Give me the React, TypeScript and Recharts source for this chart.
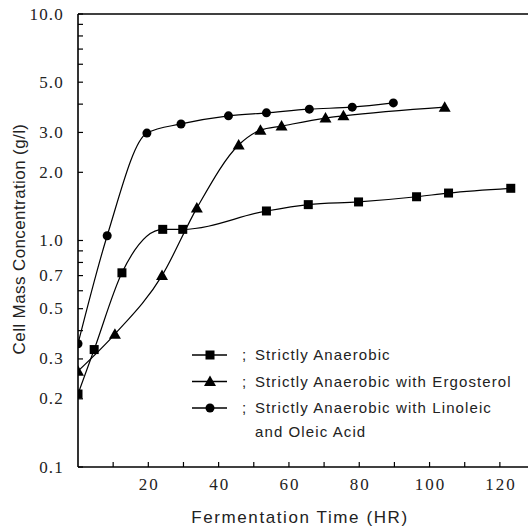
import React from 'react';
import {
  LineChart,
  Line,
  XAxis,
  YAxis,
  Legend,
  ReferenceLine,
} from 'recharts';

// Fermentation time (HR) and cell mass (g/l)
const anaerobicTime = [0, 4.6, 12.5, 24.1, 29.8, 53.6, 65.5, 79.8, 96.3, 105.4, 123.1];
const anaerobicMass = [0.21, 0.33, 0.72, 1.12, 1.12, 1.35, 1.44, 1.48, 1.56, 1.62, 1.7];

const ergosterolTime = [0, 10.5, 23.9, 33.8, 45.7, 51.9, 57.9, 70.4, 75.5, 104.3];
const ergosterolMass = [0.265, 0.386, 0.7, 1.39, 2.64, 3.07, 3.2, 3.47, 3.55, 3.88];

const linoleicTime = [0, 8.3, 19.6, 29.3, 42.8, 53.6, 65.8, 78, 89.7];
const linoleicMass = [0.35, 1.05, 2.98, 3.27, 3.55, 3.66, 3.8, 3.88, 4.05];

const seriesNames = [
  'Strictly Anaerobic',
  'Strictly Anaerobic with Ergosterol',
  'Strictly Anaerobic with Linoleic and Oleic Acid',
];
const legendLines = [
  ['Strictly Anaerobic'],
  ['Strictly Anaerobic with Ergosterol'],
  ['Strictly Anaerobic with Linoleic', 'and Oleic Acid'],
];
const markerShapes = ['square', 'triangle', 'circle'];

const xTicks = [10, 20, 30, 40, 50, 60, 70, 80, 90, 100, 110, 120];
const xTickLabels = [20, 40, 60, 80, 100, 120];
const yTicks = [0.1, 0.2, 0.3, 0.4, 0.5, 0.6, 0.7, 0.8, 0.9, 1, 2, 3, 4, 5, 6, 7, 8, 9, 10];
const yTickLabels = [0.1, 0.2, 0.3, 0.5, 0.7, 1, 2, 3, 5, 10];

const toPoints = (xs: number[], ys: number[]) => xs.map((t, i) => ({ time: t, mass: ys[i] }));

const anaerobicData = toPoints(anaerobicTime, anaerobicMass);
const ergosterolData = toPoints(ergosterolTime, ergosterolMass);
const linoleicData = toPoints(linoleicTime, linoleicMass);

const SERIF =
  '"Liberation Serif", "Times New Roman", Times, Tinos, "Noto Serif", "DejaVu Serif", FreeSerif, serif';
const SANS = '"Liberation Sans", Arial, sans-serif';

function Marker({ shape, cx, cy }: { shape: string; cx: number; cy: number }) {
  if (shape === 'square') {
    return <rect x={cx - 4.5} y={cy - 4.5} width={9} height={9} fill="#000" />;
  }
  if (shape === 'triangle') {
    return <path d={`M${cx},${cy - 6} L${cx + 6},${cy + 4.5} L${cx - 6},${cy + 4.5} Z`} fill="#000" />;
  }
  return <circle cx={cx} cy={cy} r={4.5} fill="#000" />;
}

const makeDot = (shape: string) => (props: any) => {
  const { cx, cy, index } = props;
  if (cx == null || cy == null) return <g key={`d-${shape}-${index}`} />;
  return (
    <g key={`d-${shape}-${index}`}>
      <Marker shape={shape} cx={cx} cy={cy} />
    </g>
  );
};

const YTick = ({ x, y, payload }: any) => {
  const v = payload.value;
  const show = yTickLabels.some((l) => Math.abs(l - v) < 1e-9);
  return (
    <g>
      <line x1={x} x2={x + 5} y1={y} y2={y} stroke="#000" strokeWidth={1.2} />
      {show && (
        <text
          x={x - 14}
          y={y}
          dy={5.5}
          textAnchor="end"
          fontFamily={SERIF}
          style={{ fontFamily: SERIF, fontSize: 17, letterSpacing: 1.2 }}
          fill="#222"
        >
          {v.toFixed(1)}
        </text>
      )}
    </g>
  );
};

const XTick = ({ x, y, payload }: any) => {
  const v = payload.value;
  return (
    <g>
      <line x1={x} x2={x} y1={y} y2={y - 5} stroke="#000" strokeWidth={1.2} />
      {xTickLabels.includes(v) && (
        <text
          x={x + 1}
          y={y + 23}
          textAnchor="middle"
          fontFamily={SERIF}
          style={{ fontFamily: SERIF, fontSize: 17, letterSpacing: 2 }}
          fill="#222"
        >
          {v}
        </text>
      )}
    </g>
  );
};

const renderLegend = (props: any) => {
  const { payload } = props;
  return (
    <svg width={340} height={105} style={{ display: 'block' }}>
      {payload.map((entry: any, i: number) => {
        const cy = 15 + i * 26.5;
        const lines = legendLines[i] || [entry.value];
        return (
          <g key={`legend-${i}`}>
            <line x1={7} x2={42} y1={cy} y2={cy} stroke="#000" strokeWidth={1.5} />
            <Marker shape={markerShapes[i]} cx={25} cy={cy} />
            <text x={57} y={cy + 5} style={{ fontFamily: SANS, fontSize: 15 }} fill="#222">
              ;
            </text>
            {lines.map((t, j) => (
              <text
                key={`lt-${i}-${j}`}
                x={70}
                y={cy + 5 + j * 24}
                style={{ fontFamily: SANS, fontSize: 15, letterSpacing: 1.1 }}
                fill="#222"
              >
                {t}
              </text>
            ))}
          </g>
        );
      })}
    </svg>
  );
};

export default function App() {
  return (
    <div style={{ position: 'absolute', left: 0, top: 0, width: 528, height: 528, background: '#fff' }}>
      <LineChart width={528} height={528} margin={{ top: 14, right: 0, bottom: 0, left: 0 }}>
        <XAxis
          type="number"
          dataKey="time"
          domain={[0, 128]}
          ticks={xTicks}
          tick={<XTick />}
          tickLine={false}
          tickSize={0}
          tickMargin={0}
          height={61}
          axisLine={{ stroke: '#000', strokeWidth: 1.6 }}
          allowDataOverflow
          label={{
            content: () => (
              <text
                x={300}
                y={523}
                textAnchor="middle"
                style={{ fontFamily: SANS, fontSize: 17, letterSpacing: 1.6 }}
                fill="#222"
              >
                Fermentation Time (HR)
              </text>
            ),
          }}
        />
        <YAxis
          type="number"
          dataKey="mass"
          scale="log"
          domain={[0.1, 10]}
          ticks={yTicks}
          tick={<YTick />}
          tickLine={false}
          tickSize={0}
          tickMargin={0}
          width={78}
          interval={0}
          axisLine={{ stroke: '#000', strokeWidth: 1.6 }}
          allowDataOverflow
          label={{
            content: () => (
              <text
                x={0}
                y={0}
                transform="translate(25 239) rotate(-90)"
                textAnchor="middle"
                style={{ fontFamily: SANS, fontSize: 17, letterSpacing: 0.4 }}
                fill="#222"
              >
                Cell Mass Concentration (g/l)
              </text>
            ),
          }}
        />
        <ReferenceLine y={10} stroke="#000" strokeWidth={1.6} />
        <Legend
          layout="vertical"
          align="center"
          verticalAlign="middle"
          content={renderLegend}
          wrapperStyle={{ left: 185, top: 340, width: 340 }}
        />
        <Line
          data={anaerobicData}
          dataKey="mass"
          name={seriesNames[0]}
          type="monotone"
          stroke="#000"
          strokeWidth={1.2}
          dot={makeDot(markerShapes[0])}
          activeDot={false}
          isAnimationActive={false}
        />
        <Line
          data={ergosterolData}
          dataKey="mass"
          name={seriesNames[1]}
          type="monotone"
          stroke="#000"
          strokeWidth={1.2}
          dot={makeDot(markerShapes[1])}
          activeDot={false}
          isAnimationActive={false}
        />
        <Line
          data={linoleicData}
          dataKey="mass"
          name={seriesNames[2]}
          type="monotone"
          stroke="#000"
          strokeWidth={1.2}
          dot={makeDot(markerShapes[2])}
          activeDot={false}
          isAnimationActive={false}
        />
      </LineChart>
    </div>
  );
}
